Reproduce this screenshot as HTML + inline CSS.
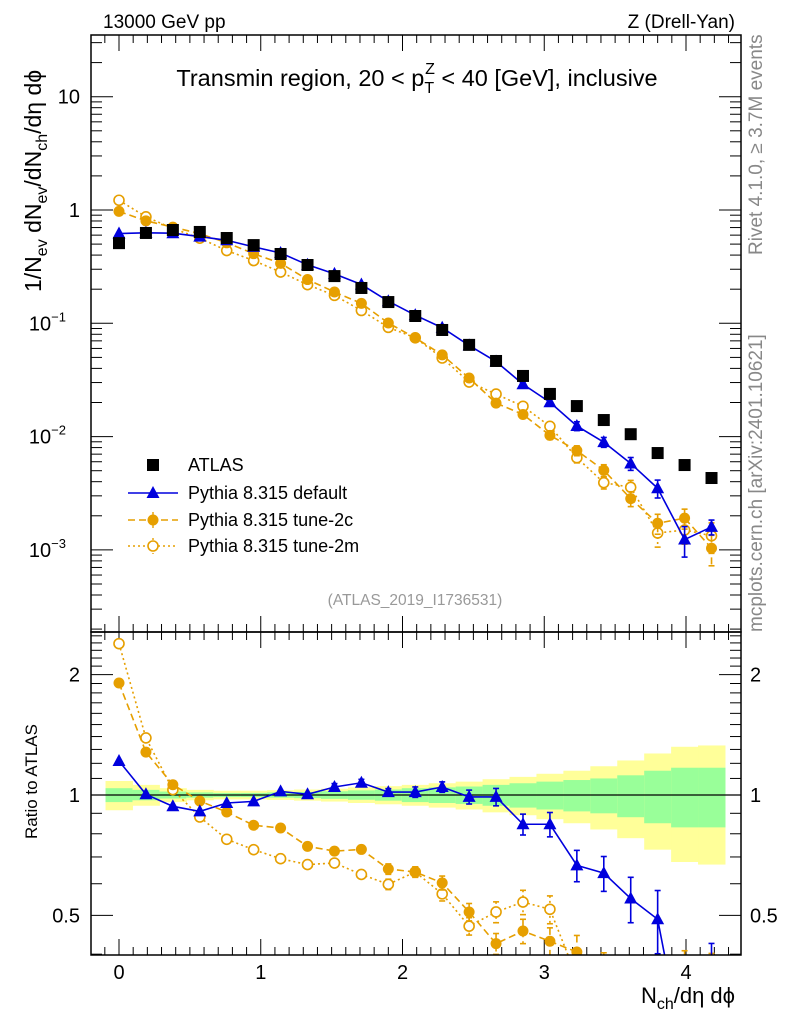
<!DOCTYPE html>
<html><head><meta charset="utf-8"><style>
html,body{margin:0;padding:0;background:#fff;overflow:hidden;}
svg{display:block;font-family:"Liberation Sans",sans-serif;}
</style></head><body>
<svg id="chart" width="786" height="1024" viewBox="0 0 786 1024" xmlns="http://www.w3.org/2000/svg">
<g id="band"></g>
<g id="grid"></g>
<g id="marks"></g>
<rect x="91" y="35" width="650" height="597" fill="none" stroke="#000" stroke-width="1.5"/>
<rect x="91" y="632" width="650" height="323" fill="none" stroke="#000" stroke-width="1.5"/>
<text x="103" y="28" font-size="19">13000 GeV pp</text>
<text x="735" y="28" font-size="19" text-anchor="end">Z (Drell-Yan)</text>
<text x="417" y="86" font-size="23.5" text-anchor="middle">Transmin region, 20 &lt; p<tspan font-size="16" dy="7">T</tspan><tspan font-size="16" dx="-9" dy="-19">Z</tspan><tspan dy="12"> &lt; 40 [GeV], inclusive</tspan></text>
<text transform="translate(762,255) rotate(-90)" font-size="19" fill="#888">Rivet 4.1.0, ≥ 3.7M events</text>
<text transform="translate(762,632) rotate(-90)" font-size="19" fill="#888">mcplots.cern.ch [arXiv:2401.10621]</text>
<text x="415" y="605" font-size="15.5" fill="#999" text-anchor="middle">(ATLAS_2019_I1736531)</text>
<text transform="translate(41,292) rotate(-90)" font-size="23">1/N<tspan font-size="16" dy="6">ev</tspan><tspan dy="-6"> dN</tspan><tspan font-size="16" dy="6">ev</tspan><tspan dy="-6">/dN</tspan><tspan font-size="16" dy="6">ch</tspan><tspan dy="-6">/dη dϕ</tspan></text>
<text transform="translate(37,839) rotate(-90)" font-size="17">Ratio to ATLAS</text>
<text x="735" y="1003" font-size="22" text-anchor="end">N<tspan font-size="16" dy="6">ch</tspan><tspan dy="-6">/dη dϕ</tspan></text>
<g id="legend"></g>
</svg>
<script>
const xs=[0,0.19,0.38,0.57,0.76,0.95,1.14,1.33,1.52,1.71,1.9,2.09,2.28,2.47,2.66,2.85,3.04,3.23,3.42,3.61,3.8,3.99,4.18];
const atlas=[0.51,0.627,0.666,0.64,0.566,0.49,0.409,0.327,0.261,0.205,0.154,0.116,0.0873,0.0645,0.0465,0.0343,0.0238,0.0186,0.014,0.0105,0.00716,0.00561,0.00431];
const ratioDefault=[1.216,1.004,0.937,0.91,0.955,0.964,1.021,1.004,1.047,1.073,1.017,1.017,1.047,0.989,0.989,0.845,0.845,0.667,0.638,0.551,0.489,0.22,0.37];
const errDefault=[0,0,0,0,0,0,0,0,0.02,0.02,0.02,0.03,0.03,0.04,0.05,0.06,0.07,0.09,0.1,0.13,0.18,0.3,0.15];
const ratio2c=[1.905,1.28,1.061,0.966,0.907,0.84,0.827,0.744,0.724,0.731,0.653,0.642,0.603,0.51,0.425,0.457,0.431,0.405,0.36,0.27,0.24,0.34,0.24];
const err2c=[0,0,0,0,0,0,0,0.02,0.02,0.02,0.03,0.03,0.04,0.05,0.06,0.07,0.08,0.1,0.12,0.15,0.2,0.2,0.3];
const ratio2m=[2.39,1.389,1.031,0.881,0.775,0.73,0.693,0.67,0.676,0.633,0.598,0.642,0.566,0.47,0.51,0.54,0.518,0.35,0.28,0.34,0.197,0.267,0.309];
const err2m=[0,0,0,0,0,0,0,0.02,0.02,0.02,0.03,0.03,0.04,0.05,0.06,0.07,0.08,0.1,0.12,0.15,0.25,0.25,0.3];
const bandYellow=[0.084,0.06,0.04,0.03,0.025,0.025,0.028,0.032,0.037,0.045,0.052,0.06,0.07,0.08,0.095,0.11,0.13,0.15,0.18,0.22,0.27,0.32,0.33];
const bandGreen=[0.04,0.03,0.02,0.015,0.012,0.012,0.015,0.018,0.022,0.027,0.032,0.04,0.045,0.05,0.06,0.07,0.08,0.09,0.1,0.12,0.15,0.17,0.17];
const yTickLabels=["10","1","10","10","10"];
const yTickExp=["","","−1","−2","−3"];
const xTickLabels=["0","1","2","3","4"];
const ratioTickLabels=["2","1","0.5"];
const ratioTickVals=[2,1,0.5];
const legendNames=["ATLAS","Pythia 8.315 default","Pythia 8.315 tune-2c","Pythia 8.315 tune-2m"];

const NS="http://www.w3.org/2000/svg";
const X=v=>119+v*141.75;
const Y=v=>210-Math.log10(v)*113.3;
const R=v=>795-Math.log10(v)*400;
const TOP=35,MID=632,BOT=955,L=91,RT=741;
function mk(tag,attrs,parent){const e=document.createElementNS(NS,tag);for(const k in attrs)e.setAttribute(k,attrs[k]);parent.appendChild(e);return e;}
const grid=document.getElementById('grid'),marks=document.getElementById('marks'),band=document.getElementById('band'),leg=document.getElementById('legend');
const hw=0.095*141.75;

xs.forEach((x,i)=>{
  let r=mk('rect',{x:X(x)-hw,y:R(1+bandYellow[i]),width:2*hw+0.5,height:R(1-bandYellow[i])-R(1+bandYellow[i]),fill:'#ffff99'},band);
  
  
  let g=mk('rect',{x:X(x)-hw,y:R(1+bandGreen[i]),width:2*hw+0.5,height:R(1-bandGreen[i])-R(1+bandGreen[i]),fill:'#99ff99'},band);
  
  
});
let ref=mk('line',{x1:L,x2:RT,y1:R(1),y2:R(1),stroke:'#000','stroke-width':1.3},grid);



for(let k=-1;k<=44;k++){const v=k/10;const x=X(v);if(x<L||x>RT)continue;
  const major=k%10===0, len=major?16:8;
  [[TOP,1],[MID,-1],[MID,1],[BOT,-1]].forEach(([y0,d])=>mk('line',{x1:x,x2:x,y1:y0,y2:y0+d*len,stroke:'#000'},grid));
}
xTickLabels.forEach((t,i)=>{const e=mk('text',{x:X(i),y:979,'font-size':20,'text-anchor':'middle'},grid);e.textContent=t;
  
  });
for(let d=-4;d<=1;d++)for(let m=1;m<=9;m++){const v=m*Math.pow(10,d);const y=Y(v);if(y<TOP||y>MID)continue;
  const len=m===1?22:11;
  mk('line',{x1:L,x2:L+len,y1:y,y2:y,stroke:'#000'},grid);mk('line',{x1:RT,x2:RT-len,y1:y,y2:y,stroke:'#000'},grid);}
yTickLabels.forEach((t,i)=>{const v=Math.pow(10,1-i);const e=mk('text',{x:80,y:Y(v)+7,'font-size':20,'text-anchor':'end'},grid);
  e.textContent=t;
  if(yTickExp[i]){e.setAttribute('x',66);const s=mk('tspan',{'font-size':13,dy:-9},e);s.textContent=yTickExp[i];}
  
  });
for(let k=4;k<=25;k++){const v=k/10;const y=R(v);if(y<MID||y>BOT)continue;
  const len=(k===5||k===10||k===20)?22:11;
  mk('line',{x1:L,x2:L+len,y1:y,y2:y,stroke:'#000'},grid);mk('line',{x1:RT,x2:RT-len,y1:y,y2:y,stroke:'#000'},grid);}
ratioTickLabels.forEach((t,i)=>{const y=R(ratioTickVals[i])+7;
  const a=mk('text',{x:80,y:y,'font-size':20,'text-anchor':'end'},grid);a.textContent=t;
  
  
  const b=mk('text',{x:750,y:y,'font-size':20},grid);b.textContent=t;
  
  });

const defs=mk('defs',{},document.getElementById('chart'));
const c1=mk('clipPath',{id:'cMain'},defs);mk('rect',{x:L,y:TOP,width:RT-L,height:MID-TOP},c1);
const c2=mk('clipPath',{id:'cRatio'},defs);mk('rect',{x:L,y:MID,width:RT-L,height:BOT-MID},c2);
const gMain=mk('g',{'clip-path':'url(#cMain)'},marks);
const gRatio=mk('g',{'clip-path':'url(#cRatio)'},marks);

function marker(type,x,y,color,parent){
  if(type==='sq')return mk('rect',{x:x-6,y:y-6,width:12,height:12,fill:'#000'},parent);
  if(type==='tri')return mk('path',{d:`M${x},${y-7}L${x+6.5},${y+5}L${x-6.5},${y+5}Z`,fill:color},parent);
  if(type==='dot')return mk('circle',{cx:x,cy:y,r:5.5,fill:color},parent);
  return mk('circle',{cx:x,cy:y,r:5,fill:'#fff',stroke:color,'stroke-width':1.6},parent);
}
const series=[
 {name:'default',r:ratioDefault,e:errDefault,type:'tri',color:'#0000dd',dash:'',w:1.6},
 {name:'tune-2c',r:ratio2c,e:err2c,type:'dot',color:'#e69f00',dash:'7,4',w:1.6},
 {name:'tune-2m',r:ratio2m,e:err2m,type:'open',color:'#e69f00',dash:'2,3',w:1.6},
];
series.slice().reverse().forEach(s=>{
  [[gMain,Y,i=>atlas[i]*s.r[i]],[gRatio,R,i=>s.r[i]]].forEach(([par,F,val])=>{
    const g=mk('g',{},par);
    
    
    const pts=xs.map((x,i)=>X(x)+','+F(val(i))).join(' ');
    const pl=mk('polyline',{points:pts,fill:'none',stroke:s.color,'stroke-width':s.w,'stroke-dasharray':s.dash},g);
    
    
    xs.forEach((x,i)=>{const v=val(i);
      if(s.e[i]>0){const y1=F(v*(1+s.e[i])),y2=F(v*(1-s.e[i]));
        mk('line',{x1:X(x),x2:X(x),y1:y1,y2:y2,stroke:s.color,'stroke-width':1.6,'stroke-dasharray':s.dash},g);
        mk('line',{x1:X(x)-3,x2:X(x)+3,y1:y1,y2:y1,stroke:s.color,'stroke-width':1.6},g);
        mk('line',{x1:X(x)-3,x2:X(x)+3,y1:y2,y2:y2,stroke:s.color,'stroke-width':1.6},g);}
      const m=marker(s.type,X(x),F(v),s.color,g);
      
      
    });
  });
});
xs.forEach((x,i)=>{const m=marker('sq',X(x),Y(atlas[i]),'#000',gMain);
  
  });

const lys=[465,493,520,546];
legendNames.forEach((n,i)=>{
  const g=mk('g',{},leg);
  
  
  const y=lys[i];
  if(i===0)marker('sq',153,y,'#000',g);
  else{const s=series[i-1];
    mk('line',{x1:128,x2:178,y1:y,y2:y,stroke:s.color,'stroke-width':1.6,'stroke-dasharray':s.dash},g);
    if(i>1)mk('line',{x1:153,x2:153,y1:y-8,y2:y+8,stroke:s.color,'stroke-width':1.4,'stroke-dasharray':s.dash},g);
    marker(s.type,153,y,s.color,g);}
  const t=mk('text',{x:188,y:y+6,'font-size':18},g);t.textContent=n;
});
</script>
</body></html>
